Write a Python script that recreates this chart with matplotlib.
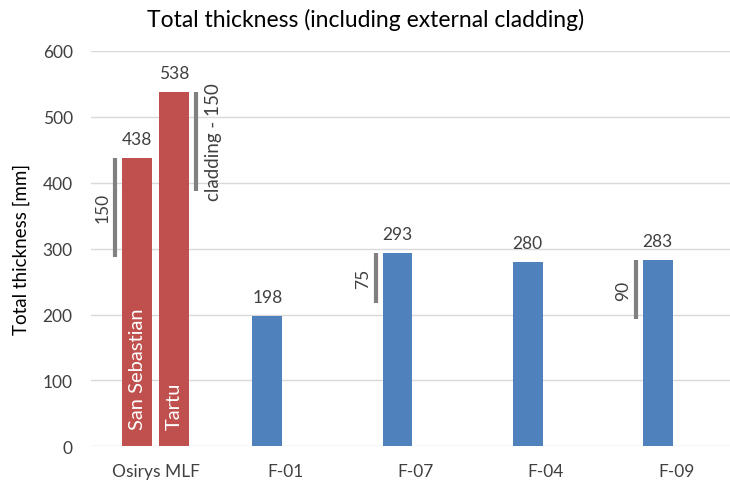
import matplotlib
matplotlib.use("Agg")
import matplotlib.pyplot as plt
import numpy as np

plt.rcParams['font.family'] = ['Lato', 'DejaVu Sans']

categories = ["Osirys MLF", "F-01", "F-07", "F-04", "F-09"]
series1 = [438, 198, 293, 280, 283]
series2 = [538, None, None, None, None]
inside_labels = ["San Sebastian", "Tartu"]
yticks = [0, 100, 200, 300, 400, 500, 600]

# annotation ranges: (category index, bar side, top, length, label)
annotations = [
    (0, -1, 438, 150, "150"),
    (0, 1, 538, 150, "cladding - 150"),
    (2, -1, 293, 75, "75"),
    (4, -1, 283, 90, "90"),
]

red = "#C0504D"
blue = "#4F81BD"

fig = plt.figure(figsize=(7.3, 4.85), dpi=100)
ax = fig.add_axes([90.7 / 730, 37.7 / 485, 650.5 / 730, 395.3 / 485])

x = np.arange(len(categories))
w = 0.23
off = 0.142

colors1 = [red] + [blue] * (len(categories) - 1)
ax.bar(x - off, series1, width=w, color=colors1, zorder=3)
x2 = [xi + off for xi, v in zip(x, series2) if v is not None]
v2 = [v for v in series2 if v is not None]
ax.bar(x2, v2, width=w, color=red, zorder=3)

# data labels
for xi, v in zip(x - off, series1):
    ax.annotate(str(v), (xi, v), xytext=(0, 8), textcoords="offset points",
                ha="center", va="bottom", fontsize=12.5, color="#404040")
for xi, v in zip(x2, v2):
    ax.annotate(str(v), (xi, v), xytext=(0, 8), textcoords="offset points",
                ha="center", va="bottom", fontsize=12.5, color="#404040")

# inside labels
for xi, lab in zip([x[0] - off, x[0] + off], inside_labels):
    ax.text(xi, 27, lab, rotation=90, ha="center", va="bottom",
            color="white", fontsize=14.5)

# annotation lines
for ci, side, top, length, lab in annotations:
    lx = ci + side * 0.31
    ax.plot([lx, lx], [top, top - length], color="#808080", lw=3,
            solid_capstyle="butt", zorder=4)
    mid = top - length / 2
    if side < 0:
        ax.annotate(lab, (lx, mid), xytext=(-9, 0), textcoords="offset points",
                    rotation=90, ha="center", va="center", fontsize=12.5,
                    color="#404040")
    else:
        ax.annotate(lab, (lx, mid), xytext=(12.5, 0), textcoords="offset points",
                    rotation=90, ha="center", va="center", fontsize=13.5,
                    color="#404040")

ax.set_xlim(-0.5, len(categories) - 0.5)
ax.set_ylim(0, 600)
ax.set_yticks(yticks)
ax.set_xticks(x)
ax.set_xticklabels(categories)
ax.tick_params(axis="both", length=0, labelsize=12.5, colors="#404040")
ax.tick_params(axis="y", pad=13)
ax.tick_params(axis="x", pad=12)
ax.grid(axis="y", color="#D9D9D9", lw=1, zorder=0)
for s in ax.spines.values():
    s.set_visible(False)
ax.set_ylabel("Total thickness [mm]", fontsize=13.5, color="black", labelpad=9)

fig.text(366 / 730, 1 - 20 / 485, "Total thickness (including external cladding)",
         ha="center", va="center", fontsize=16.5, color="black")

fig.savefig("out.png", dpi=100)
